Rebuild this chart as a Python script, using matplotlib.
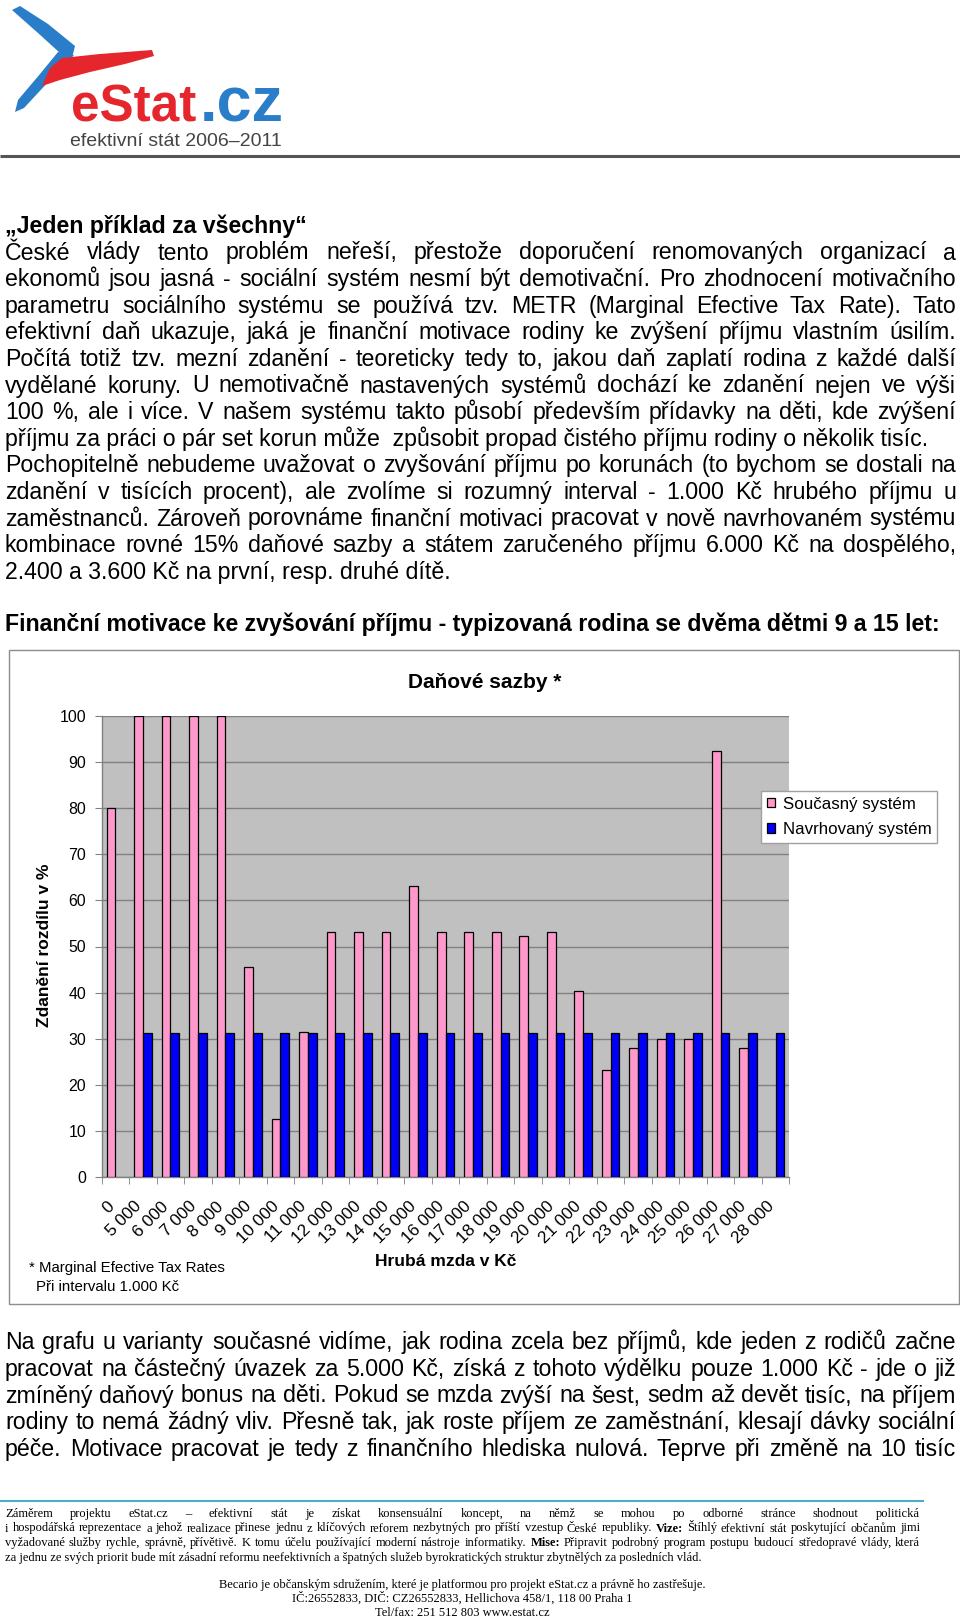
import matplotlib
matplotlib.use('Agg')
import matplotlib.pyplot as plt
import numpy as np
from matplotlib.patches import Polygon, Rectangle
from matplotlib import font_manager
import matplotlib.transforms as mtransforms

plt.rcParams['font.family'] = ['Liberation Sans', 'DejaVu Sans']

# ---------------- data ----------------
categories = ["0", "5 000", "6 000", "7 000", "8 000", "9 000", "10 000", "11 000",
              "12 000", "13 000", "14 000", "15 000", "16 000", "17 000", "18 000",
              "19 000", "20 000", "21 000", "22 000", "23 000", "24 000", "25 000",
              "26 000", "27 000", "28 000"]
soucasny = [80, 100, 100, 100, 100, 45.5, 12.6, 31.5, 53.2, 53.2, 53.2, 63.2, 53.2,
            53.2, 53.2, 52.3, 53.2, 40.4, 23.3, 27.9, 29.9, 29.9, 92.5, 27.9, np.nan]
navrhovany = [np.nan, 31.2, 31.2, 31.2, 31.2, 31.2, 31.2, 31.2, 31.2, 31.2, 31.2, 31.2,
              31.2, 31.2, 31.2, 31.2, 31.2, 31.2, 31.2, 31.2, 31.2, 31.2, 31.2, 31.2, 31.2]
series_names = ["Současný systém", "Navrhovaný systém"]
yticks = [0, 10, 20, 30, 40, 50, 60, 70, 80, 90, 100]

chart_title = "Daňové sazby *"
y_label = "Zdanění rozdílu v %"
x_label = "Hrubá mzda v Kč"
footnote = ["* Marginal Efective Tax Rates", "Při intervalu 1.000 Kč"]

heading1 = "„Jeden příklad za všechny“"
body_top = [
    ("České vlády tento problém neřeší, přestože doporučení renomovaných organizací a", True),
    ("ekonomů jsou jasná - sociální systém nesmí být demotivační. Pro zhodnocení motivačního", True),
    ("parametru sociálního systému se používá tzv. METR (Marginal Efective Tax Rate). Tato", True),
    ("efektivní daň ukazuje, jaká je finanční motivace rodiny ke zvýšení příjmu vlastním úsilím.", True),
    ("Počítá totiž tzv. mezní zdanění - teoreticky tedy to, jakou daň zaplatí rodina z každé další", True),
    ("vydělané koruny. U nemotivačně nastavených systémů dochází ke zdanění nejen ve výši", True),
    ("100 %, ale i více. V našem systému takto působí především přídavky na děti, kde zvýšení", True),
    ("příjmu za práci o pár set korun může  způsobit propad čistého příjmu rodiny o několik tisíc.", False),
    ("Pochopitelně nebudeme uvažovat o zvyšování příjmu po korunách (to bychom se dostali na", True),
    ("zdanění v tisících procent), ale zvolíme si rozumný interval - 1.000 Kč hrubého příjmu u", True),
    ("zaměstnanců. Zároveň porovnáme finanční motivaci pracovat v nově navrhovaném systému", True),
    ("kombinace rovné 15% daňové sazby a státem zaručeného příjmu 6.000 Kč na dospělého,", True),
    ("2.400 a 3.600 Kč na první, resp. druhé dítě.", False),
]
heading2 = "Finanční motivace ke zvyšování příjmu - typizovaná rodina se dvěma dětmi 9 a 15 let:"
body_bottom = [
    "Na grafu u varianty současné vidíme, jak rodina zcela bez příjmů, kde jeden z rodičů začne",
    "pracovat na částečný úvazek za 5.000 Kč, získá z tohoto výdělku pouze 1.000 Kč - jde o již",
    "zmíněný daňový bonus na děti. Pokud se mzda zvýší na šest, sedm až devět tisíc, na příjem",
    "rodiny to nemá žádný vliv. Přesně tak, jak roste příjem ze zaměstnání, klesají dávky sociální",
    "péče. Motivace pracovat je tedy z finančního hlediska nulová. Teprve při změně na 10 tisíc",
]
footer_just = [
    ("Záměrem projektu eStat.cz – efektivní stát je získat konsensuální koncept, na němž se mohou po odborné stránce shodnout politická", True),
    ("i hospodářská reprezentace a jehož realizace přinese jednu z klíčových reforem nezbytných pro příští vzestup České republiky. Vize: Štíhlý efektivní stát poskytující občanům jimi", True),
    ("vyžadované služby rychle, správně, přívětivě. K tomu účelu používající moderní nástroje informatiky. Mise: Připravit podrobný program postupu budoucí středopravé vlády, která", True),
    ("za jednu ze svých priorit bude mít zásadní reformu neefektivních a špatných služeb byrokratických struktur zbytnělých za posledních vlád.", False),
]
footer_bold = ("Vize:", "Mise:")
footer_center = [
    "Becario je občanským sdružením, které je platformou pro projekt eStat.cz a právně ho zastřešuje.",
    "IČ:26552833, DIČ: CZ26552833, Hellichova 458/1, 118 00 Praha 1",
    "Tel/fax: 251 512 803 www.estat.cz",
]
logo_main = "eStat"
logo_dom = ".cz"
logo_sub = "efektivní stát 2006–2011"

# ---------------- figure ----------------
W, H = 960, 1621
SANS = 'Liberation Sans'
SERIF = 'Liberation Serif'
fig = plt.figure(figsize=(W / 100, H / 100), dpi=100)
fig.patch.set_facecolor('white')
bg = fig.add_axes([0, 0, 1, 1])
bg.set_xlim(0, W)
bg.set_ylim(H, 0)
bg.axis('off')
renderer = fig.canvas.get_renderer()


def text_w(s, size, family, weight='normal'):
    t = bg.text(0, 0, s, fontsize=size, family=family, weight=weight)
    w = t.get_window_extent(renderer).width
    t.remove()
    return w


def fit(s, target, family, weight='normal'):
    return 10 * target / text_w(s, 10, family, weight)


def put_line(s, x0, y, size, family, weight='normal', right=None, bold=(), color='black'):
    if right is None:
        bg.text(x0, y, s, fontsize=size, family=family, weight=weight, va='baseline',
                ha='left', color=color)
        return
    words = s.split(' ')
    objs, ws = [], []
    for w in words:
        wt = 'bold' if w in bold else weight
        t = bg.text(0, y, w, fontsize=size, family=family, weight=wt, va='baseline',
                    ha='left', color=color)
        objs.append(t)
        ws.append(t.get_window_extent(renderer).width)
    gap = (right - x0 - sum(ws)) / (len(words) - 1)
    x = x0
    for t, w in zip(objs, ws):
        t.set_x(x)
        x += w + gap


# ---------------- logo ----------------
blue_c = '#2A7DC8'
red_c = '#E5262D'
bg.add_patch(Polygon([(12, 10), (20, 6), (48, 24), (75, 46), (72, 58), (60, 53), (38, 33)],
                     closed=True, color=blue_c, lw=0))
bg.add_patch(Polygon([(58, 52), (74, 55), (50, 80), (24, 108), (15, 112), (18, 100), (40, 74)],
                     closed=True, color=blue_c, lw=0))
bg.add_patch(Polygon([(42, 86), (50, 68), (62, 58), (100, 54), (152, 50), (154, 56),
                      (125, 64), (90, 72), (60, 80)], closed=True, color=red_c, lw=0))
s_logo = fit(logo_main, 125, SANS, 'bold')
bg.text(71, 122, logo_main, fontsize=s_logo, family=SANS, weight='bold', color=red_c,
        va='baseline')
s_dom = fit(logo_dom, 84, SANS, 'bold')
bg.text(200, 122, logo_dom, fontsize=s_dom, family=SANS, weight='bold', color=blue_c,
        va='baseline')
try:
    font_manager.findfont('Liberation Sans Narrow', fallback_to_default=False)
    NARROW = 'Liberation Sans Narrow'
except Exception:
    NARROW = SANS
s_sub = fit(logo_sub, 212, NARROW)
bg.text(70, 146, logo_sub, fontsize=s_sub, family=NARROW, color='#444444', va='baseline')
bg.plot([0, W], [156, 156], color='#555555', lw=2.2, solid_capstyle='butt')

# ---------------- body text ----------------
body_size = fit(body_top[-1][0], 446, SANS)
LEFT, RIGHT = 5, 956
LS = 26.6
put_line(heading1, LEFT, 233, body_size, SANS, 'bold')
for i, (s, just) in enumerate(body_top):
    put_line(s, LEFT, 259.5 + LS * i, body_size, SANS, right=RIGHT if just else None)
put_line(heading2, LEFT, 631.5, body_size * 1.003, SANS, 'bold')
for i, s in enumerate(body_bottom):
    put_line(s, LEFT, 1349.3 + LS * i, body_size, SANS, right=RIGHT)

# ---------------- footer ----------------
bg.plot([0, 923], [1501, 1501], color='#4BACC6', lw=1.5)
foot_size = fit(footer_just[-1][0], 698, SERIF)
for i, (s, just) in enumerate(footer_just):
    put_line(s, LEFT, 1517 + 14.5 * i, foot_size, SERIF, right=920 if just else None,
             bold=footer_bold)
for i, s in enumerate(footer_center):
    bg.text(462, 1588 + 14 * i, s, fontsize=foot_size, family=SERIF, ha='center',
            va='baseline')

# ---------------- chart frame ----------------
bg.add_patch(Rectangle((8.5, 650), 950, 654, fill=False, edgecolor='#8C8C8C', lw=1))

# ---------------- chart ----------------
L, R, T, B = 101.7, 789.3, 716, 1177
ax = fig.add_axes([L / W, 1 - B / H, (R - L) / W, (B - T) / H])
x = np.arange(len(categories))
bw = 0.32
ax.bar(x - bw / 2, soucasny, bw, color='#FF99CC', edgecolor='black', lw=0.9,
       label=series_names[0], zorder=3)
ax.bar(x + bw / 2, navrhovany, bw, color='#0000F5', edgecolor='black', lw=0.9,
       label=series_names[1], zorder=3)
ax.set_xlim(-0.5, len(categories) - 0.5)
ax.set_ylim(0, 100)
ax.set_facecolor('#C0C0C0')
ax.set_yticks(yticks)
ax.yaxis.grid(True, color='#808080', lw=1)
ax.set_axisbelow(True)
for sp in ['top', 'right']:
    ax.spines[sp].set_visible(False)
for sp in ['left', 'bottom']:
    ax.spines[sp].set_color('#808080')
    ax.spines[sp].set_linewidth(1)
ax.tick_params(axis='y', length=5, color='#808080', pad=6.3, labelsize=11.4)
ax.set_xticks(x)
ax.set_xticklabels(categories, rotation=45, ha='right', va='center',
                   rotation_mode='anchor', fontsize=12.3)
ax.set_xticks(np.arange(-0.5, len(categories), 1), minor=True)
ax.tick_params(axis='x', which='major', length=0, pad=19.5)
ax.tick_params(axis='x', which='minor', length=5, color='#808080')
off = mtransforms.ScaledTranslation(-4 / 100, 0, fig.dpi_scale_trans)
for lab in ax.get_xticklabels():
    lab.set_transform(lab.get_transform() + off)

bg.text(485, 682, chart_title, fontsize=15, weight='bold', family=SANS,
        ha='center', va='center')

ax.set_ylabel(y_label, fontsize=12.5, weight='bold')
ax.yaxis.set_label_coords((45 - L) / (R - L), (B - 945) / (B - T))
ax.yaxis.label.set_va('center')
ax.set_xlabel(x_label, fontsize=12.5, weight='bold')
ax.xaxis.set_label_coords((446 - L) / (R - L), (B - 1261) / (B - T))
ax.xaxis.label.set_va('center')

bg.text(29, 1271.7, footnote[0], fontsize=10.8, family=SANS, va='baseline')
bg.text(36, 1290.7, footnote[1], fontsize=10.8, family=SANS, va='baseline')

leg = ax.legend(loc='upper left', bbox_to_anchor=(760.7 / W, 1 - 790.7 / H),
                bbox_transform=fig.transFigure, fontsize=12.2, frameon=True, fancybox=False,
                framealpha=1, edgecolor='#A0A0A0', borderaxespad=0, handlelength=0.5,
                handleheight=0.5, handletextpad=0.45, labelspacing=0.6, borderpad=0.35)
leg.get_frame().set_linewidth(1)

fig.savefig('out.png', dpi=100, facecolor='white')
